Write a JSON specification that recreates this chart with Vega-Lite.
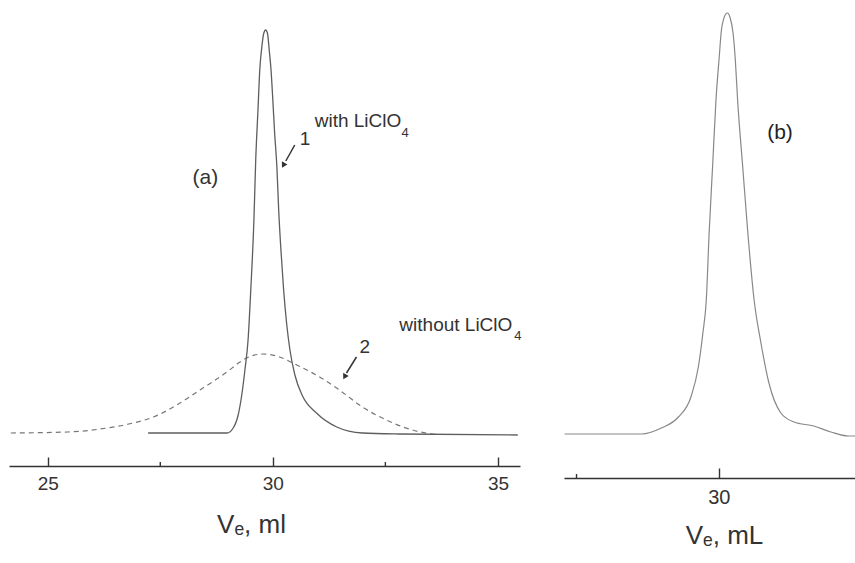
{
  "$schema": "https://vega.github.io/schema/vega-lite/v6.json",
  "padding": {"left": 8, "top": 0, "right": 0, "bottom": 0},
  "autosize": {"type": "pad"},
  "background": "white",
  "spacing": 44,
  "bounds": "flush",
  "config": {
    "view": {"stroke": null},
    "font": "Liberation Sans",
    "axis": {
      "domainColor": "#333333",
      "domainWidth": 1.6,
      "tickColor": "#333333",
      "tickWidth": 1.4,
      "labelColor": "#333333",
      "titleColor": "#333333",
      "labelFont": "Liberation Sans",
      "titleFont": "Liberation Sans",
      "titleFontWeight": "normal",
      "grid": false
    }
  },
  "datasets": {
    "solidA": [
      {"v": 27.23, "r": 0}, {"v": 28.38, "r": 0}, {"v": 28.98, "r": 0}, {"v": 29.12, "r": 5},
      {"v": 29.23, "r": 18}, {"v": 29.31, "r": 38}, {"v": 29.38, "r": 63}, {"v": 29.45, "r": 93},
      {"v": 29.51, "r": 143}, {"v": 29.58, "r": 213}, {"v": 29.62, "r": 273}, {"v": 29.67, "r": 323},
      {"v": 29.71, "r": 363}, {"v": 29.76, "r": 388}, {"v": 29.8, "r": 400}, {"v": 29.84, "r": 403},
      {"v": 29.88, "r": 400}, {"v": 29.92, "r": 383}, {"v": 29.96, "r": 363}, {"v": 30.0, "r": 333},
      {"v": 30.04, "r": 300}, {"v": 30.09, "r": 266}, {"v": 30.13, "r": 223}, {"v": 30.18, "r": 183},
      {"v": 30.24, "r": 143}, {"v": 30.31, "r": 108}, {"v": 30.38, "r": 83}, {"v": 30.49, "r": 58},
      {"v": 30.66, "r": 37}, {"v": 30.97, "r": 20}, {"v": 31.42, "r": 6}, {"v": 31.99, "r": 0},
      {"v": 32.81, "r": -1}, {"v": 35.44, "r": -2}
    ],
    "dashA": [
      {"v": 24.18, "r": 0}, {"v": 25.44, "r": 1}, {"v": 26.17, "r": 4}, {"v": 26.9, "r": 10},
      {"v": 27.35, "r": 16}, {"v": 27.79, "r": 26}, {"v": 28.38, "r": 43}, {"v": 28.98, "r": 61},
      {"v": 29.27, "r": 71}, {"v": 29.42, "r": 75}, {"v": 29.78, "r": 79}, {"v": 30.15, "r": 76},
      {"v": 30.53, "r": 68}, {"v": 31.04, "r": 56}, {"v": 31.48, "r": 43}, {"v": 31.99, "r": 26},
      {"v": 32.52, "r": 13}, {"v": 33.1, "r": 3}, {"v": 33.69, "r": -2}
    ],
    "lineB": [
      {"v": 27.29, "r": 0}, {"v": 27.94, "r": 0}, {"v": 28.64, "r": 0}, {"v": 28.99, "r": 6},
      {"v": 29.29, "r": 17}, {"v": 29.51, "r": 37}, {"v": 29.64, "r": 67}, {"v": 29.72, "r": 101},
      {"v": 29.78, "r": 134}, {"v": 29.83, "r": 201}, {"v": 29.89, "r": 267}, {"v": 29.95, "r": 334},
      {"v": 30.01, "r": 379}, {"v": 30.04, "r": 401}, {"v": 30.09, "r": 416}, {"v": 30.15, "r": 421},
      {"v": 30.2, "r": 416}, {"v": 30.25, "r": 401}, {"v": 30.29, "r": 374}, {"v": 30.33, "r": 334},
      {"v": 30.42, "r": 267}, {"v": 30.51, "r": 201}, {"v": 30.62, "r": 134}, {"v": 30.74, "r": 91},
      {"v": 30.88, "r": 51}, {"v": 31.09, "r": 21}, {"v": 31.32, "r": 12}, {"v": 31.67, "r": 8},
      {"v": 31.97, "r": 2}, {"v": 32.27, "r": -2}, {"v": 32.41, "r": -2}
    ],
    "labelsA": [
      {"v": 30.93, "r": 306, "t": "with LiClO"},
      {"v": 30.6, "r": 288, "t": "1"},
      {"v": 32.81, "r": 102, "t": "without LiClO"},
      {"v": 31.925, "r": 80, "t": "2"}
    ],
    "subsA": [
      {"v": 32.86, "r": 296, "t": "4"},
      {"v": 35.36, "r": 93, "t": "4"}
    ],
    "panelA": [{"v": 28.5, "r": 255, "t": "(a)"}],
    "arrowsA": [
      {"v": 30.487, "r": 288, "v2": 30.288, "r2": 272},
      {"v": 31.858, "r": 76, "v2": 31.637, "r2": 60}
    ],
    "headsA": [
      {"v": 30.243, "r": 268.5},
      {"v": 31.604, "r": 57}
    ],
    "minorA": [
      {"v": 27.5, "r": -33, "r2": -29},
      {"v": 32.5, "r": -33, "r2": -29}
    ],
    "minorB": [
      {"v": 27.5, "r": -44, "r2": -40}
    ],
    "panelB": [{"v": 31.075, "r": 301, "t": "(b)"}]
  },
  "hconcat": [
    {
      "width": 511,
      "height": 466,
      "layer": [
        {
          "data": {"name": "dashA"},
          "mark": {"type": "line", "color": "#777777", "strokeWidth": 1.2, "strokeDash": [5, 4], "interpolate": "monotone"},
          "encoding": {
            "x": {
              "field": "v", "type": "quantitative",
              "scale": {"domain": [24.14, 35.49], "nice": false, "zero": false},
              "axis": {
                "values": [25, 30, 35],
                "tickSize": -9,
                "labelFontSize": 19,
                "labelPadding": 17,
                "title": "Vₑ, ml",
                "titleFontSize": 26,
                "titleX": 242,
                "titleY": 66,
                "titleBaseline": "alphabetic"
              }
            },
            "y": {"field": "r", "type": "quantitative", "scale": {"domain": [-33, 433], "nice": false, "zero": false}, "axis": null}
          }
        },
        {
          "data": {"name": "solidA"},
          "mark": {"type": "line", "color": "#5e5e5e", "strokeWidth": 1.3, "interpolate": "monotone"},
          "encoding": {
            "x": {"field": "v", "type": "quantitative"},
            "y": {"field": "r", "type": "quantitative"}
          }
        },
        {
          "data": {"name": "minorA"},
          "mark": {"type": "rule", "color": "#333333", "strokeWidth": 1.4},
          "encoding": {
            "x": {"field": "v", "type": "quantitative"},
            "y": {"field": "r", "type": "quantitative"},
            "y2": {"field": "r2"}
          }
        },
        {
          "data": {"name": "labelsA"},
          "mark": {"type": "text", "align": "left", "baseline": "alphabetic", "fontSize": 19, "color": "#333333", "font": "Liberation Sans"},
          "encoding": {
            "x": {"field": "v", "type": "quantitative"},
            "y": {"field": "r", "type": "quantitative"},
            "text": {"field": "t"}
          }
        },
        {
          "data": {"name": "subsA"},
          "mark": {"type": "text", "align": "left", "baseline": "alphabetic", "fontSize": 13, "color": "#333333", "font": "Liberation Sans"},
          "encoding": {
            "x": {"field": "v", "type": "quantitative"},
            "y": {"field": "r", "type": "quantitative"},
            "text": {"field": "t"}
          }
        },
        {
          "data": {"name": "panelA"},
          "mark": {"type": "text", "align": "center", "baseline": "middle", "fontSize": 21, "color": "#333333", "font": "Liberation Sans"},
          "encoding": {
            "x": {"field": "v", "type": "quantitative"},
            "y": {"field": "r", "type": "quantitative"},
            "text": {"field": "t"}
          }
        },
        {
          "data": {"name": "arrowsA"},
          "mark": {"type": "rule", "color": "#333333", "strokeWidth": 1.5},
          "encoding": {
            "x": {"field": "v", "type": "quantitative"},
            "y": {"field": "r", "type": "quantitative"},
            "x2": {"field": "v2"},
            "y2": {"field": "r2"}
          }
        },
        {
          "data": {"name": "headsA"},
          "mark": {"type": "point", "shape": "triangle", "filled": true, "color": "#333333", "size": 40, "angle": 209, "opacity": 1},
          "encoding": {
            "x": {"field": "v", "type": "quantitative"},
            "y": {"field": "r", "type": "quantitative"}
          }
        }
      ]
    },
    {
      "width": 292,
      "height": 478,
      "layer": [
        {
          "data": {"name": "lineB"},
          "mark": {"type": "line", "color": "#888888", "strokeWidth": 1.2, "interpolate": "monotone"},
          "encoding": {
            "x": {
              "field": "v", "type": "quantitative",
              "scale": {"domain": [27.28, 32.41], "nice": false, "zero": false},
              "axis": {
                "values": [30],
                "format": "d",
                "tickSize": -10,
                "labelFontSize": 20,
                "labelPadding": 19,
                "title": "Vₑ, mL",
                "titleFontSize": 26,
                "titleX": 160,
                "titleY": 65,
                "titleBaseline": "alphabetic"
              }
            },
            "y": {"field": "r", "type": "quantitative", "scale": {"domain": [-44, 434], "nice": false, "zero": false}, "axis": null}
          }
        },
        {
          "data": {"name": "minorB"},
          "mark": {"type": "rule", "color": "#333333", "strokeWidth": 1.4},
          "encoding": {
            "x": {"field": "v", "type": "quantitative"},
            "y": {"field": "r", "type": "quantitative"},
            "y2": {"field": "r2"}
          }
        },
        {
          "data": {"name": "panelB"},
          "mark": {"type": "text", "align": "center", "baseline": "middle", "fontSize": 21, "color": "#222222", "font": "Liberation Sans"},
          "encoding": {
            "x": {"field": "v", "type": "quantitative"},
            "y": {"field": "r", "type": "quantitative"},
            "text": {"field": "t"}
          }
        }
      ]
    }
  ]
}
